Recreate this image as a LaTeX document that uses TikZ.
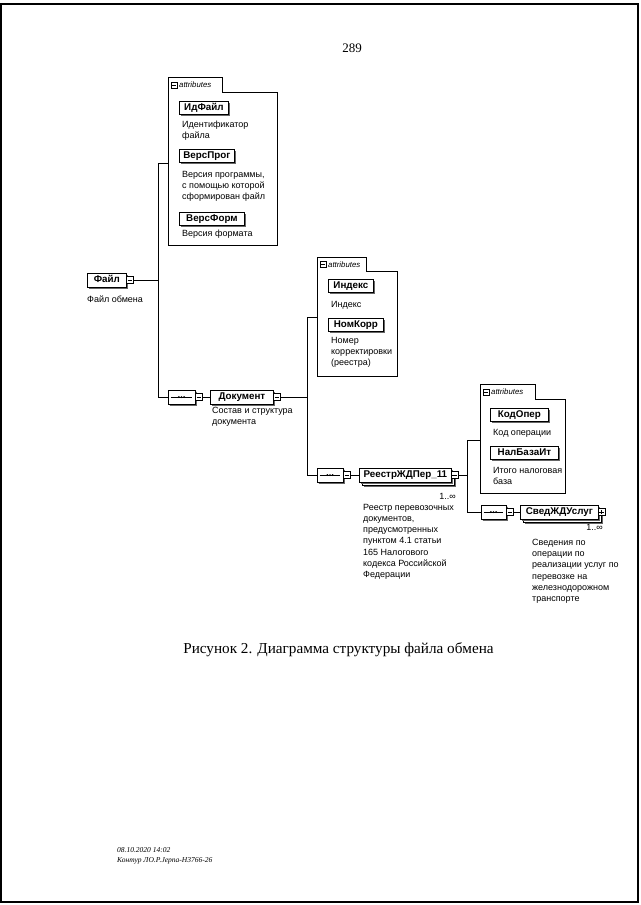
\documentclass[tikz,border=0pt]{standalone}
\usepackage{fontspec}
\setmainfont{Liberation Serif}
\newfontfamily\dsans{Liberation Sans}
\usetikzlibrary{shapes.misc,shadows}
\tikzset{
  shad/.style={drop shadow={shadow xshift=1.8pt,shadow yshift=-1.8pt,fill=black!60,opacity=1}},
  elem/.style={draw, fill=white, line width=0.8pt, font=\dsans\bfseries\fontsize{9.8}{11}\selectfont,
     minimum height=14pt, text height=7.2pt, text depth=1.8pt, inner xsep=2.5pt, inner ysep=0pt, anchor=west, shad},
  attel/.style={elem, minimum height=13pt},
  desc/.style={font=\dsans\fontsize{9}{11.2}\selectfont, align=left, inner sep=0pt, anchor=north west},
  occ/.style={font=\dsans\fontsize{9}{10}\selectfont, inner sep=0pt, anchor=east},
  conn/.style={line width=0.8pt},
  boxline/.style={line width=0.8pt},
  abox/.style={anchor=north west, inner sep=0pt},
  atab/.style={anchor=south west, minimum height=14pt, inner sep=0pt},
  atxt/.style={anchor=west, inner sep=0pt, font=\dsans\itshape\fontsize{7.8}{9}\selectfont},
  minb/.style={draw, fill=white, line width=0.6pt, minimum size=7pt, inner sep=0pt,
     path picture={\draw[line width=0.6pt] ([xshift=1.3pt]path picture bounding box.west) -- ([xshift=-1.3pt]path picture bounding box.east);}},
  plusb/.style={draw, fill=white, line width=0.6pt, minimum size=7pt, inner sep=0pt,
     path picture={\draw[line width=0.6pt] ([xshift=1.3pt]path picture bounding box.west) -- ([xshift=-1.3pt]path picture bounding box.east)
        ([yshift=1.3pt]path picture bounding box.south) -- ([yshift=-1.3pt]path picture bounding box.north);}},
  seqc/.style={chamfered rectangle, chamfered rectangle angle=45, chamfered rectangle xsep=4pt, chamfered rectangle ysep=4pt,
     draw, fill=white, line width=0.8pt, minimum height=14pt, inner sep=0pt, shad},
}
\newcommand\seqinside[1]{%
  \draw[line width=0.6pt] ([xshift=3pt]#1.west) -- ([xshift=-3pt]#1.east);
  \fill ([xshift=-2.6pt]#1.center) circle[radius=1pt] (#1.center) circle[radius=1pt] ([xshift=2.6pt]#1.center) circle[radius=1pt];}
\begin{document}
\begin{tikzpicture}[x=1pt,y=-1pt]
\useasboundingbox (0,0) rectangle (640,905);
\draw[line width=2pt] (1,4) rectangle (638,902);

\node[font=\fontsize{13}{15}\selectfont] (pnum) at (352,48) {289};

% ---------- attributes box 1
\node[abox, minimum width=109pt, minimum height=153pt] (ab1) at (168,92) {};
\node[atab, minimum width=54pt] (tb1) at (ab1.north west) {};
\draw[boxline] (ab1.south west) -- (tb1.north west) -- (tb1.north east) -- (tb1.south east) -- (ab1.north east) -- (ab1.south east) -- cycle;
\node[minb, minimum size=6pt] (tb1m) at ([xshift=6pt]tb1.west) {};
\node[atxt] (tb1t) at ([xshift=11pt]tb1.west) {attributes};
\node[attel, minimum width=49pt] (aid) at (179,108) {ИдФайл};
\node[desc] (aidd) at (182,121) {Идентификатор\\файла};
\node[attel, minimum width=55pt] (aver) at (179,155.5) {ВерсПрог};
\node[desc] (averd) at (182,171) {Версия программы,\\с помощью которой\\сформирован файл};
\node[attel, minimum width=65pt] (afrm) at (179,218.5) {ВерсФорм};
\node[desc] (afrmd) at (182,230) {Версия формата};

% ---------- Файл
\node[elem, minimum width=39pt] (fayl) at (87,280) {Файл};
\node[minb] (faylm) at ([xshift=3pt]fayl.east) {};
\node[desc] (fayld) at (87,296) {Файл обмена};
\coordinate (v1t) at (158,163);
\coordinate (v1b) at (158,397);
\draw[conn] (faylm.east) -- (faylm.east -| v1t);
\draw[conn] (v1t) -- (v1b);
\draw[conn] (v1t) -- (v1t -| ab1.west);

% ---------- sequence 1 + Документ
\node[seqc, minimum width=27pt] (sq1) at (181.5,397) {};
\seqinside{sq1}
\node[minb] (sq1m) at ([xshift=3.5pt]sq1.east) {};
\draw[conn] (v1b) -- (sq1.west);
\node[elem, minimum width=63pt] (doc) at (210,397) {Документ};
\node[minb] (docm) at ([xshift=3pt]doc.east) {};
\draw[conn] (sq1m.east) -- (doc.west);
\node[desc] (docd) at (212,407) {Состав и структура\\документа};
\coordinate (v2t) at (307,317);
\coordinate (v2b) at (307,475);
\draw[conn] (docm.east) -- (docm.east -| v2t);
\draw[conn] (v2t) -- (v2b);

% ---------- attributes box 2
\node[abox, minimum width=80pt, minimum height=105pt] (ab2) at (317,271) {};
\node[atab, minimum width=49pt, minimum height=13pt] (tb2) at (ab2.north west) {};
\draw[boxline] (ab2.south west) -- (tb2.north west) -- (tb2.north east) -- (tb2.south east) -- (ab2.north east) -- (ab2.south east) -- cycle;
\node[minb, minimum size=6pt] (tb2m) at ([xshift=6pt]tb2.west) {};
\node[atxt] (tb2t) at ([xshift=11pt]tb2.west) {attributes};
\draw[conn] (v2t) -- (v2t -| ab2.west);
\node[attel, minimum width=45pt] (aidx) at (328,286) {Индекс};
\node[desc] (aidxd) at (331,301) {Индекс};
\node[attel, minimum width=55pt] (anom) at (328,324.5) {НомКорр};
\node[desc] (anomd) at (331,337) {Номер\\корректировки\\(реестра)};

% ---------- sequence 2 + РеестрЖДПер_11
\node[seqc, minimum width=26pt] (sq2) at (330,475) {};
\seqinside{sq2}
\node[minb] (sq2m) at ([xshift=3.5pt]sq2.east) {};
\draw[conn] (v2b) -- (sq2.west);
\node[elem, minimum width=92pt] (reeb) at (362,478) {};
\node[elem, minimum width=92pt] (ree) at (359,475) {РеестрЖДПер\_11};
\node[minb] (reem) at ([xshift=2.5pt]ree.east) {};
\draw[conn] (sq2m.east) -- (ree.west);
\node[occ] (reeo) at (456,496) {1..∞};
\node[desc] (reed) at (363,504) {Реестр перевозочных\\документов,\\предусмотренных\\пунктом 4.1 статьи\\165 Налогового\\кодекса Российской\\Федерации};
\coordinate (v3t) at (467,440);
\coordinate (v3b) at (467,512);
\draw[conn] (reem.east) -- (reem.east -| v3t);
\draw[conn] (v3t) -- (v3b);

% ---------- attributes box 3
\node[abox, minimum width=85pt, minimum height=94pt] (ab3) at (480,399) {};
\node[atab, minimum width=55pt] (tb3) at (ab3.north west) {};
\draw[boxline] (ab3.south west) -- (tb3.north west) -- (tb3.north east) -- (tb3.south east) -- (ab3.north east) -- (ab3.south east) -- cycle;
\node[minb, minimum size=6pt] (tb3m) at ([xshift=6pt]tb3.west) {};
\node[atxt] (tb3t) at ([xshift=11pt]tb3.west) {attributes};
\draw[conn] (v3t) -- (v3t -| ab3.west);
\node[attel, minimum width=58pt] (akod) at (490,415) {КодОпер};
\node[desc] (akodd) at (493,429) {Код операции};
\node[attel, minimum width=68pt] (anal) at (490,453) {НалБазаИт};
\node[desc] (anald) at (493,467) {Итого налоговая\\база};

% ---------- sequence 3 + СведЖДУслуг
\node[seqc, minimum width=25pt] (sq3) at (493.5,512) {};
\seqinside{sq3}
\node[minb] (sq3m) at ([xshift=3.5pt]sq3.east) {};
\draw[conn] (v3b) -- (sq3.west);
\node[elem, minimum width=78pt] (svdb) at (523,515) {};
\node[elem, minimum width=78pt] (svd) at (520,512) {СведЖДУслуг};
\node[plusb] (svdm) at ([xshift=2.5pt]svd.east) {};
\draw[conn] (sq3m.east) -- (svd.west);
\node[occ] (svdo) at (603,527) {1..∞};
\node[desc] (svdd) at (532,539) {Сведения по\\операции по\\реализации услуг по\\перевозке на\\железнодорожном\\транспорте};

% ---------- caption and footer
\node[font=\fontsize{15.2}{18}\selectfont] (cap) at (338.5,650) {Рисунок 2. Диаграмма структуры файла обмена};
\node[anchor=north west, align=left, inner sep=0pt, font=\itshape\fontsize{7.5}{10.5}\selectfont] (foot) at (117,847) {08.10.2020 14:02\\Контур ЛО.Р.Јерпа-Н3766-26};
\end{tikzpicture}
\end{document}
